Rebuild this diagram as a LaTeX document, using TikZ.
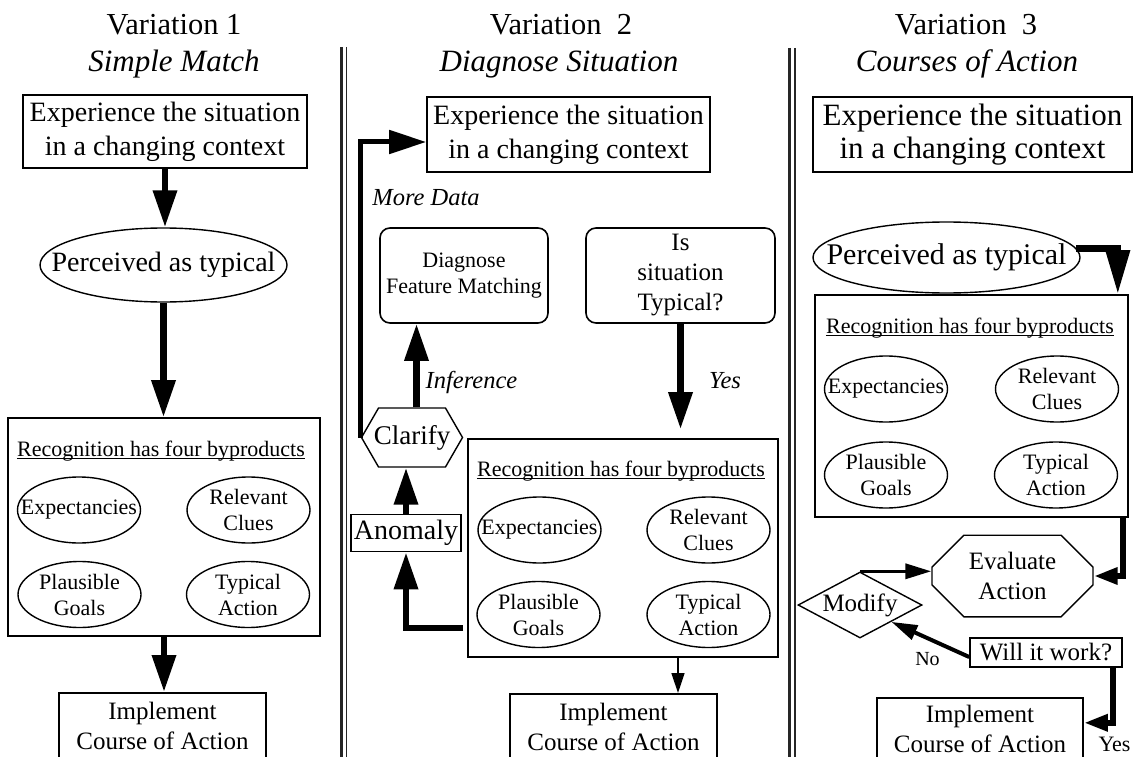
\documentclass[tikz,border=0pt]{standalone}
\usepackage{fontspec}
\setmainfont{Liberation Serif}
\usetikzlibrary{arrows.meta,positioning,shapes.geometric,shapes.misc,shapes.symbols,calc}
\newcommand{\fsz}[2]{\fontsize{#1}{#2}\selectfont}
\newcommand{\zw}[1]{\makebox[0pt]{#1}}

\begin{document}
\begin{tikzpicture}[
  x=1pt, y=-1pt,
  ttl/.style={font=\fsz{30.5}{37}, anchor=base, inner sep=0pt},
  sub/.style={font=\fsz{31}{37}\itshape, anchor=base, inner sep=0pt},
  box/.style={draw, line width=1.6pt, align=center, inner sep=0pt},
  rbox/.style={box, rounded corners=10pt},
  oval/.style={draw, ellipse, line width=1.4pt, align=center, inner sep=0pt,
               font=\fsz{22}{26}, minimum width=123pt, minimum height=66pt},
  perc/.style={draw, ellipse, line width=1.4pt, inner sep=0pt},
  rtl/.style={font=\fsz{22}{26}, anchor=base, inner sep=0pt},
  hexa/.style={draw, signal, signal to=east and west, signal pointer angle=120,
               line width=1.4pt, inner sep=0pt},
  octa/.style={draw, chamfered rectangle, chamfered rectangle xsep=15pt,
               chamfered rectangle ysep=17pt, line width=1.4pt, align=center, inner sep=0pt},
  dia/.style={draw, diamond, aspect=1.9, line width=1.4pt, inner sep=0pt},
  arr/.style={-{Triangle[length=37pt,width=23pt]}, line width=6.5pt},
  sarr/.style={-{Triangle[length=24pt,width=16pt]}, line width=6.5pt},
  marr/.style={-{Triangle[length=26pt,width=15pt]}, line width=3.5pt},
  tarr/.style={-{Triangle[length=20pt,width=13pt]}, line width=1.5pt},
  lbl/.style={font=\fsz{24.5}{28}\itshape, anchor=base, inner sep=0pt},
  divider/.style={black!85},
]
\useasboundingbox (0,0) rectangle (1135,757);

% Column titles
\node[ttl] (ttl1) at (174,35) {Variation 1};
\node[sub] (sub1) at (174,72) {Simple Match};
\node[ttl] (ttl2) at (561,35) {Variation\ \ 2};
\node[sub] (sub2) at (559,72) {Diagnose Situation};
\node[ttl] (ttl3) at (966,35) {Variation\ \ 3};
\node[sub] (sub3) at (967,72) {Courses of Action};

% Double rules between the columns
\draw[divider, line width=3pt] (341,47) -- (341,757);
\draw[divider, line width=1.8pt] (346.5,47) -- (346.5,757);
\draw[divider, line width=3pt] (789.5,48) -- (789.5,757);
\draw[divider, line width=1.8pt] (795,48) -- (795,757);

% Variation 1
\node[box, font=\fsz{28}{34}, minimum width=284pt, minimum height=73pt] (sit1) at (165,131.5)
  {Experience the situation\\in a changing context};
\node[perc, font=\fsz{28}{34}, minimum width=247pt, minimum height=74pt] (typ1) at (163.5,265)
  {\zw{Perceived as typical}};
\node[box, minimum width=312pt, minimum height=218pt] (rec1) at (164,527) {};
\node[rtl] (rt1) at (161,456) {Recognition has four byproducts};
\draw[line width=1pt] ([yshift=-2.5pt]rt1.base west) -- ([yshift=-2.5pt]rt1.base east);
\node[oval] (expc1) at (79,510) {\zw{Expectancies}};
\node[oval] (clue1) at (248.5,510) {\zw{Relevant}\\\zw{Clues}};
\node[oval] (goal1) at (79.5,594.5) {\zw{Plausible}\\\zw{Goals}};
\node[oval] (act1) at (248,594.5) {\zw{Typical}\\\zw{Action}};
\node[box, font=\fsz{25}{30}, minimum width=207pt, minimum height=66pt, anchor=north] (impl1)
  at (162.5,692) {Implement\\Course of Action};

\draw[arr] (sit1.south) -- (sit1.south |- typ1.north);
\draw[arr] (typ1.south) -- (typ1.south |- rec1.north);
\draw[arr] (rec1.south) -- (rec1.south |- impl1.north);

% Variation 2
\node[box, font=\fsz{28}{34}, minimum width=283pt, minimum height=75pt] (sit2) at (568.5,134.5)
  {Experience the situation\\in a changing context};
\node[lbl] (more2) at (426,205) {More Data};
\node[rbox, font=\fsz{22}{26}, minimum width=168pt, minimum height=95pt] (diag2) at (464,275.5)
  {Diagnose\\Feature Matching};
\node[rbox, font=\fsz{25}{30}, minimum width=189pt, minimum height=95pt] (istyp2) at (680.5,275.5)
  {Is\\situation\\Typical?};
\node[lbl] (inf2) at (471.5,388) {Inference};
\node[lbl] (yes2) at (725,388) {Yes};
\node[hexa, font=\fsz{27}{32}, minimum width=101pt, minimum height=59pt] (clar2) at (412,437.5)
  {\zw{Clarify}};
\node[box, font=\fsz{28}{34}, minimum width=110pt, minimum height=37pt] (anom2) at (406,533)
  {Anomaly};
\node[box, minimum width=310pt, minimum height=218pt] (rec2) at (623,548) {};
\node[rtl] (rt2) at (621,476) {Recognition has four byproducts};
\draw[line width=1pt] ([yshift=-2.5pt]rt2.base west) -- ([yshift=-2.5pt]rt2.base east);
\node[oval] (expc2) at (539.5,530) {\zw{Expectancies}};
\node[oval] (clue2) at (708.5,530) {\zw{Relevant}\\\zw{Clues}};
\node[oval] (goal2) at (538.5,614.5) {\zw{Plausible}\\\zw{Goals}};
\node[oval] (act2) at (708.5,614.5) {\zw{Typical}\\\zw{Action}};
\node[box, font=\fsz{25}{30}, minimum width=207pt, minimum height=66pt, anchor=north] (impl2)
  at (613.5,693) {Implement\\Course of Action};

% More data loop back to the top
\coordinate (lp2) at ($(sit2.west)+(0,7.5)$);
\draw[arr, line width=5pt] (clar2.west) -- (clar2.west |- lp2) -- (lp2);
\coordinate (ci2) at ($(clar2.north)+(4.5,0)$);
\draw[arr] (ci2) -- (ci2 |- diag2.south);
\draw[arr, shorten >=9pt] (istyp2.south) -- (istyp2.south |- rec2.north);
\draw[arr] (anom2.north) -- (anom2.north |- clar2.south);
\coordinate (ra2) at ($(rec2.south west)+(-4,-30)$);
\draw[arr] (ra2) -- (ra2 -| anom2.south) -- (anom2.south);
\coordinate (rb2) at ($(rec2.south)+(55,0)$);
\draw[tarr] (rb2) -- (rb2 |- impl2.north);

% Variation 3
\node[box, font=\fsz{31}{33}, minimum width=319pt, minimum height=75pt] (sit3) at (972.5,134.5)
  {Experience the situation\\in a changing context};
\node[perc, font=\fsz{30}{34}, minimum width=267pt, minimum height=71pt] (typ3) at (946.5,257.5)
  {\zw{Perceived as typical}};
\node[box, minimum width=313pt, minimum height=222pt] (rec3) at (971.5,406) {};
\node[rtl] (rt3) at (970,333) {Recognition has four byproducts};
\draw[line width=1pt] ([yshift=-2.5pt]rt3.base west) -- ([yshift=-2.5pt]rt3.base east);
\node[oval] (expc3) at (886,389) {\zw{Expectancies}};
\node[oval] (clue3) at (1057,389) {\zw{Relevant}\\\zw{Clues}};
\node[oval] (goal3) at (886,475) {\zw{Plausible}\\\zw{Goals}};
\node[oval] (act3) at (1056,475) {\zw{Typical}\\\zw{Action}};
\node[octa, font=\fsz{25}{30}, minimum width=161pt, minimum height=65pt] (eval3) at (1012.5,576)
  {Evaluate\\Action};
\node[dia, font=\fsz{25}{30}, minimum width=124pt, minimum height=66pt] (mod3) at (860,605)
  {\zw{Modify}};
\node[box, font=\fsz{25}{30}, minimum width=152pt, minimum height=29pt] (will3) at (1046,652.5)
  {Will it work?};
\node[box, font=\fsz{25}{30}, minimum width=206pt, minimum height=62pt, anchor=north] (impl3)
  at (980,697) {Implement\\Course of Action};
\node[font=\fsz{20}{24}, anchor=base, inner sep=0pt] (no3) at (927.5,665) {No};
\node[font=\fsz{22}{26}, anchor=base, inner sep=0pt] (yes3) at (1114.5,751) {Yes};

\coordinate (pc3) at ($(rec3.north east)+(-11,0)$);
\draw[arr, line width=7pt, -{Triangle[length=44pt,width=23pt]}] (typ3.4) -- (typ3.4 -| pc3) -- (pc3);
\coordinate (rc3) at ($(rec3.south east)+(-6,0)$);
\draw[sarr] (rc3) -- (rc3 |- eval3.east) -- (eval3.east);
\draw[marr] (mod3.north) -- (mod3.north -| eval3.west);
\coordinate (wl3) at ($(will3.west)+(0,4.5)$);
\draw[marr, line width=4pt] (wl3) -- (mod3.south east);
\coordinate (wc3) at ($(will3.south east)+(-10,0)$);
\coordinate (ic3) at ($(impl3.east)+(0,-6)$);
\draw[sarr] (wc3) -- (wc3 |- ic3) -- (ic3);

\end{tikzpicture}
\end{document}
